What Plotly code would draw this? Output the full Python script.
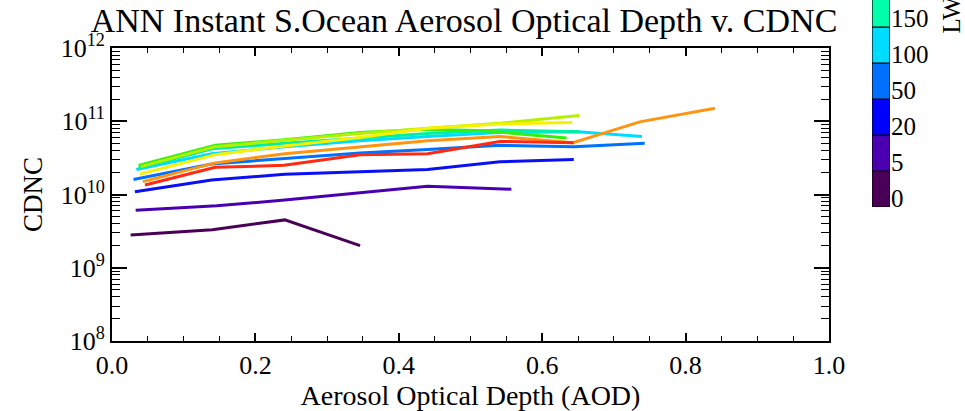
import plotly.graph_objects as go

W, H = 965, 411

# ---- data ----
aod_0 = [0.026, 0.140, 0.241, 0.346]
cdnc_0 = [2.8e9, 3.3e9, 4.5e9, 2.0e9]

aod_5 = [0.033, 0.146, 0.241, 0.346, 0.440, 0.557]
cdnc_5 = [6.1e9, 7.0e9, 8.4e9, 1.07e10, 1.3e10, 1.18e10]

aod_20 = [0.032, 0.139, 0.241, 0.346, 0.440, 0.541, 0.644]
cdnc_20 = [1.09e10, 1.58e10, 1.89e10, 2.05e10, 2.2e10, 2.8e10, 3.0e10]

aod_50 = [0.030, 0.139, 0.241, 0.346, 0.440, 0.541, 0.644, 0.743]
cdnc_50 = [1.6e10, 2.6e10, 3.1e10, 3.7e10, 4.1e10, 4.7e10, 4.5e10, 5.0e10]

aod_100 = [0.034, 0.139, 0.241, 0.346, 0.440, 0.541, 0.650, 0.739]
cdnc_100 = [2.2e10, 3.6e10, 4.5e10, 5.4e10, 6.2e10, 7.0e10, 7.2e10, 6.2e10]

aod_150 = [0.037, 0.140, 0.241, 0.346, 0.440, 0.541, 0.652]
cdnc_150 = [2.3e10, 4.2e10, 5.0e10, 5.9e10, 6.8e10, 7.6e10, 7.2e10]

aod_200 = [0.037, 0.144, 0.241, 0.346, 0.440, 0.520, 0.634]
cdnc_200 = [2.5e10, 4.7e10, 5.6e10, 7.0e10, 7.8e10, 7.4e10, 5.9e10]

aod_250 = [0.040, 0.144, 0.241, 0.346, 0.440, 0.541, 0.652]
cdnc_250 = [2.4e10, 4.5e10, 5.5e10, 6.8e10, 8.0e10, 9.4e10, 1.2e11]

aod_300 = [0.039, 0.144, 0.241, 0.346, 0.440, 0.541, 0.642]
cdnc_300 = [1.9e10, 3.5e10, 4.6e10, 6.0e10, 8.0e10, 9.2e10, 9.6e10]

aod_400 = [0.043, 0.144, 0.241, 0.346, 0.440, 0.541, 0.643, 0.736, 0.841]
cdnc_400 = [1.5e10, 2.7e10, 3.6e10, 4.5e10, 5.4e10, 6.2e10, 5.1e10, 9.8e10, 1.5e11]

aod_500 = [0.046, 0.144, 0.240, 0.346, 0.440, 0.541, 0.644]
cdnc_500 = [1.35e10, 2.35e10, 2.5e10, 3.5e10, 3.6e10, 5.3e10, 5.1e10]

series = [
    (aod_0, cdnc_0, "#4b0058"),
    (aod_5, cdnc_5, "#4a00b0"),
    (aod_20, cdnc_20, "#0a10f5"),
    (aod_50, cdnc_50, "#0070ff"),
    (aod_100, cdnc_100, "#00dcff"),
    (aod_150, cdnc_150, "#00f0a0"),
    (aod_200, cdnc_200, "#33f010"),
    (aod_250, cdnc_250, "#b4f000"),
    (aod_300, cdnc_300, "#f8f000"),
    (aod_400, cdnc_400, "#ff9410"),
    (aod_500, cdnc_500, "#ff2a10"),
]

# colour bar
cbar_labels = ["0", "5", "20", "50", "100", "150"]
cbar_colors = ["#4b0058", "#4a00b0", "#0000ff", "#0070ff", "#00dcff", "#00ffaa"]

x_ticks = [0.0, 0.2, 0.4, 0.6, 0.8, 1.0]
x_ticktext = ["0.0", "0.2", "0.4", "0.6", "0.8", "1.0"]
y_ticks = [1e8, 1e9, 1e10, 1e11, 1e12]
y_ticktext = ["10<sup>8</sup>", "10<sup>9</sup>", "10<sup>10</sup>", "10<sup>11</sup>", "10<sup>12</sup>"]
y_minor = [k * 10 ** d for d in range(8, 12) for k in range(2, 10)]

FONT = "Liberation Serif, Times New Roman, DejaVu Serif, serif"

fig = go.Figure()
for xs, ys, c in series:
    fig.add_trace(go.Scatter(x=xs, y=ys, mode="lines",
                             line=dict(color=c, width=3), showlegend=False,
                             xaxis="x", yaxis="y"))

n = len(cbar_labels)
fig.add_trace(go.Bar(x=[0] * n, y=[1] * n, base=list(range(n)), width=1,
                     marker=dict(color=cbar_colors, line=dict(color="black", width=1.2)),
                     showlegend=False, xaxis="x2", yaxis="y2", hoverinfo="skip"))

x0, x1 = 112 / W, 829 / W
y0, y1 = 1 - 341 / H, 1 - 48 / H

fig.update_layout(
    width=W, height=H,
    margin=dict(l=0, r=0, t=0, b=0, autoexpand=False),
    paper_bgcolor="white", plot_bgcolor="white",
    font=dict(family=FONT, color="black", size=24),
    title=dict(text="ANN Instant S.Ocean Aerosol Optical Depth v. CDNC",
               x=464 / W, xanchor="center", y=1 - 20 / H, yanchor="middle",
               font=dict(family=FONT, size=34, color="black"), automargin=False),
    xaxis=dict(domain=[x0, x1], range=[0, 1], tickmode="array",
               tickvals=x_ticks, ticktext=x_ticktext,
               ticks="inside", ticklen=8, tickwidth=1.5, tickcolor="black",
               showline=True, linecolor="black", linewidth=1.8, mirror="ticks",
               showgrid=False, zeroline=False, automargin=False,
               minor=dict(dtick=0.05, ticks="inside", ticklen=5, tickwidth=1.2,
                          tickcolor="black", showgrid=False),
               tickfont=dict(family=FONT, size=26),
               title=dict(text="Aerosol Optical Depth (AOD)", font=dict(family=FONT, size=28), standoff=12)),
    yaxis=dict(domain=[y0, y1], type="log", range=[8, 12], tickmode="array",
               tickvals=y_ticks, ticktext=y_ticktext,
               ticks="inside", ticklen=15, tickwidth=1.5, tickcolor="black",
               showline=True, linecolor="black", linewidth=1.8, mirror="ticks",
               showgrid=False, zeroline=False, automargin=False,
               minor=dict(tickmode="array", tickvals=y_minor, ticks="inside", ticklen=8,
                          tickwidth=1.2, tickcolor="black", showgrid=False),
               tickfont=dict(family=FONT, size=26),
               title=dict(text="CDNC", font=dict(family=FONT, size=27), standoff=10)),
    xaxis2=dict(domain=[872 / W, 890 / W], range=[-0.5, 0.5], visible=False, anchor="y2"),
    yaxis2=dict(domain=[1 - 207 / H, 1], range=[0, 5.75], anchor="x2", side="right",
                tickmode="array", tickvals=[i + 0.25 for i in range(n)], ticktext=cbar_labels,
                ticks="", showgrid=False, zeroline=False, showline=False, automargin=False,
                tickfont=dict(family=FONT, size=25)),
    showlegend=False,
)

fig.add_annotation(text="LWP", textangle=-90, xref="paper", yref="paper",
                   x=951 / W, y=1 - 36 / H, xanchor="center", yanchor="bottom",
                   showarrow=False, font=dict(family=FONT, size=25, color="black"))

fig.write_html("out.html")
